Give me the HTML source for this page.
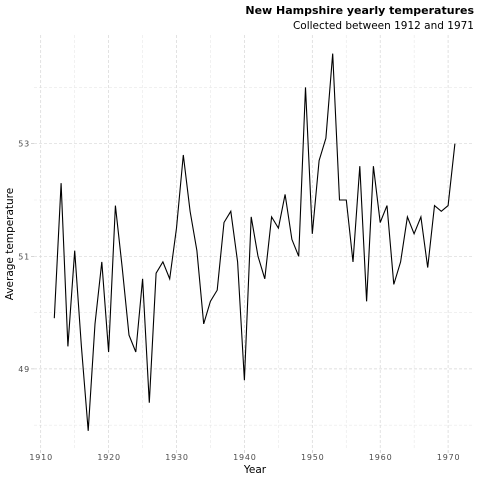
<!DOCTYPE html>
<html><head><meta charset="utf-8"><style>
body{margin:0;background:#fff;font-family:"DejaVu Sans","Liberation Sans",sans-serif}
</style></head><body>
<svg width="480" height="480" xmlns="http://www.w3.org/2000/svg" font-family="DejaVu Sans, Liberation Sans, sans-serif">
<g id="grid"></g>
<g id="axes"></g>
<path id="line" fill="none" stroke="#000" stroke-width="1.1"/>
<text x="474" y="14" text-anchor="end" font-size="11" font-weight="bold">New Hampshire yearly temperatures</text>
<text x="474" y="29" text-anchor="end" font-size="10.5">Collected between 1912 and 1971</text>
<text x="255" y="473" text-anchor="middle" font-size="10.5">Year</text>
<text transform="translate(13,244) rotate(-90)" text-anchor="middle" font-size="10.5">Average temperature</text>
</svg>
<script>
const startYear = 1912;
const temps = [49.9,52.3,49.4,51.1,49.4,47.9,49.8,50.9,49.3,51.9,50.8,49.6,49.3,50.6,48.4,50.7,50.9,50.6,51.5,52.8,51.8,51.1,49.8,50.2,50.4,51.6,51.8,50.9,48.8,51.7,51.0,50.6,51.7,51.5,52.1,51.3,51.0,54.0,51.4,52.7,53.1,54.6,52.0,52.0,50.9,52.6,50.2,52.6,51.6,51.9,50.5,50.9,51.7,51.4,51.7,50.8,51.9,51.8,51.9,53.0];
const xTicks = [1910,1920,1930,1940,1950,1960,1970];
const xMinor = [1915,1925,1935,1945,1955,1965];
const yTicks = [49,51,53];
const yMinor = [48,50,52,54];
const ns="http://www.w3.org/2000/svg";
const X=v=>40.7+(v-1910)*6.79;
const Y=v=>143.7-(v-53)*56.3;
const L=34,R=474,T=35,B=450;
const grid=document.getElementById('grid'),axes=document.getElementById('axes');
function ln(x1,y1,x2,y2,w,name){const l=document.createElementNS(ns,'line');
l.setAttribute('x1',x1);l.setAttribute('y1',y1);l.setAttribute('x2',x2);l.setAttribute('y2',y2);
l.setAttribute('stroke',w?'#d6d6d6':'#e8e8e8');l.setAttribute('stroke-width',w?0.7:0.6);l.setAttribute('stroke-dasharray','3,2');


grid.appendChild(l);}
function tx(x,y,s,anchor,name){const t=document.createElementNS(ns,'text');
t.setAttribute('x',x);t.setAttribute('y',y);t.setAttribute('font-size','8');t.setAttribute('letter-spacing','0.8');t.setAttribute('fill','#4d4d4d');t.setAttribute('text-anchor',anchor);t.textContent=s;


axes.appendChild(t);}
function tk(x1,y1,x2,y2){const l=document.createElementNS(ns,'line');
l.setAttribute('x1',x1);l.setAttribute('y1',y1);l.setAttribute('x2',x2);l.setAttribute('y2',y2);l.setAttribute('stroke','#bbb');l.setAttribute('stroke-width','0.6');


axes.appendChild(l);}
xMinor.forEach(v=>ln(X(v),T,X(v),B,0,'x-minor-gridline'));
yMinor.forEach(v=>ln(L,Y(v),R,Y(v),0,'y-minor-gridline'));
xTicks.forEach(v=>{ln(X(v),T,X(v),B,1,'x-gridline');tk(X(v),B,X(v),B+3);tx(X(v)+0.5,460,v,'middle','x-tick-label');});
yTicks.forEach(v=>{ln(L,Y(v),R,Y(v),1,'y-gridline');tk(L-3,Y(v),L,Y(v));tx(30,Y(v)+3,v,'end','y-tick-label');});
document.getElementById('line').setAttribute('d',temps.map((t,i)=>(i?'L':'M')+X(startYear+i).toFixed(1)+','+Y(t).toFixed(1)).join(''));
</script>
</body></html>
